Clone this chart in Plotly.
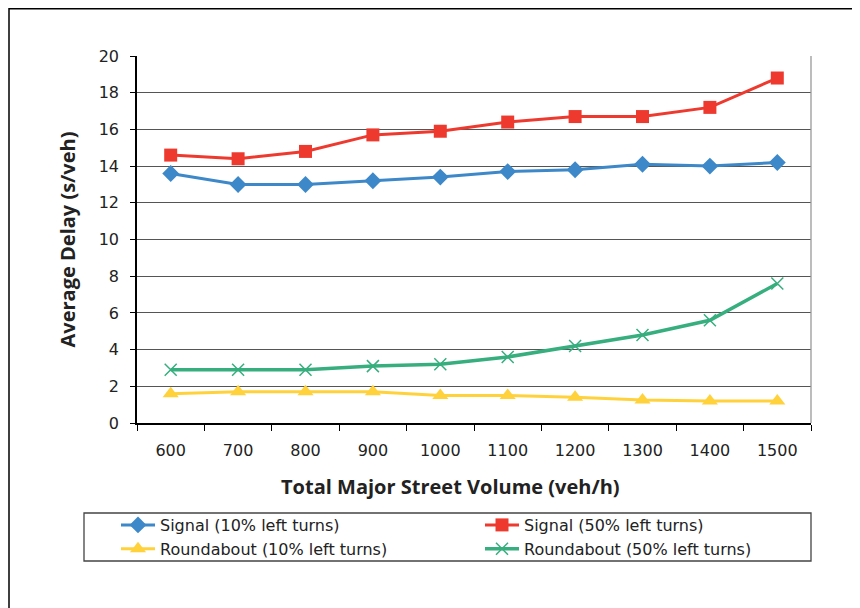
import plotly.graph_objects as go

categories = ["600", "700", "800", "900", "1000", "1100", "1200", "1300", "1400", "1500"]
signal_10 = [13.6, 13.0, 13.0, 13.2, 13.4, 13.7, 13.8, 14.1, 14.0, 14.2]
signal_50 = [14.6, 14.4, 14.8, 15.7, 15.9, 16.4, 16.7, 16.7, 17.2, 18.8]
round_10 = [1.6, 1.7, 1.7, 1.7, 1.5, 1.5, 1.4, 1.25, 1.2, 1.2]
round_50 = [2.9, 2.9, 2.9, 3.1, 3.2, 3.6, 4.2, 4.8, 5.6, 7.6]

names = ["Signal (10% left turns)", "Signal (50% left turns)",
         "Roundabout (10% left turns)", "Roundabout (50% left turns)"]
x_title = "Total Major Street Volume (veh/h)"
y_title = "Average Delay (s/veh)"

W, H = 860, 608
OFF = 8  # page body margin offset
L, R, T, B = 137 - OFF, 860 - (811 - OFF), 56 - OFF, 608 - (423 - OFF)
pw, ph = W - L - R, H - T - B

def px_x(x):
    return (x - OFF - L) / pw

def px_y(y):
    return (H - B - (y - OFF)) / ph

FONT = "DejaVu Sans"
TFONT = "Open Sans"
fig = go.Figure()

fig.add_trace(go.Scatter(x=categories, y=signal_10, name=names[0], mode="lines+markers",
                         line=dict(color="#3D88C8", width=3),
                         marker=dict(symbol="diamond", size=13, color="#3D88C8"),
                         legend="legend"))
fig.add_trace(go.Scatter(x=categories, y=round_10, name=names[2], mode="lines+markers",
                         line=dict(color="#FFD23C", width=3),
                         marker=dict(symbol="triangle-up", size=14, color="#FFD23C"),
                         legend="legend"))
fig.add_trace(go.Scatter(x=categories, y=signal_50, name=names[1], mode="lines+markers",
                         line=dict(color="#EE3A2E", width=3),
                         marker=dict(symbol="square", size=13, color="#EE3A2E"),
                         legend="legend2"))
fig.add_trace(go.Scatter(x=categories, y=round_50, name=names[3], mode="lines+markers",
                         line=dict(color="#36AE7E", width=3.5),
                         marker=dict(symbol="x-thin", size=12, color="#36AE7E",
                                     line=dict(color="#36AE7E", width=1.5)),
                         legend="legend2"))

fig.update_xaxes(type="category", tickson="boundaries", ticks="outside", ticklen=6,
                 tickcolor="black", tickwidth=1.2, showline=True, linecolor="black",
                 linewidth=1.5, showgrid=False, range=[-0.5, 9.5],
                 ticklabelstandoff=12,
                 tickfont=dict(family=FONT, size=16, color="#222"))
fig.update_yaxes(range=[0, 20], dtick=2, ticks="outside", ticklen=5, tickcolor="black",
                 tickwidth=1.2, showline=True, linecolor="black", linewidth=1.5,
                 showgrid=True, gridcolor="#555555", gridwidth=1.3, zeroline=False,
                 ticklabelstandoff=8,
                 tickfont=dict(family=FONT, size=16, color="#222"),
                 title=dict(text=y_title, standoff=18,
                            font=dict(family=TFONT, size=20, color="#222", weight="bold")))

legend_common = dict(orientation="v", xanchor="left", yanchor="top", bgcolor="rgba(0,0,0,0)",
                     font=dict(family=FONT, size=16, color="#222"), tracegroupgap=0,
                     itemwidth=34)
fig.update_layout(
    width=W, height=H,
    margin=dict(l=L, r=R, t=T, b=B, autoexpand=False),
    paper_bgcolor="white", plot_bgcolor="white",
    showlegend=True,
    legend=dict(x=px_x(116), y=px_y(508), **legend_common),
    legend2=dict(x=px_x(480), y=px_y(508), **legend_common),
    annotations=[
        dict(text=x_title, xref="paper", yref="paper", x=px_x(450), y=px_y(487),
             xanchor="center", yanchor="middle", showarrow=False,
             font=dict(family=TFONT, size=20, color="#222", weight="bold")),
    ],
    shapes=[
        dict(type="rect", xref="paper", yref="paper", x0=px_x(9), x1=px_x(875),
             y0=px_y(630), y1=px_y(8.8), line=dict(color="black", width=1.5)),
        dict(type="rect", xref="paper", yref="paper", x0=px_x(84), x1=px_x(811),
             y0=px_y(561), y1=px_y(513), line=dict(color="#444", width=1.3)),
        dict(type="line", xref="paper", yref="paper", x0=1, x1=1, y0=0, y1=1,
             line=dict(color="#999", width=1.3)),
    ],
)

fig.write_html("out.html")
